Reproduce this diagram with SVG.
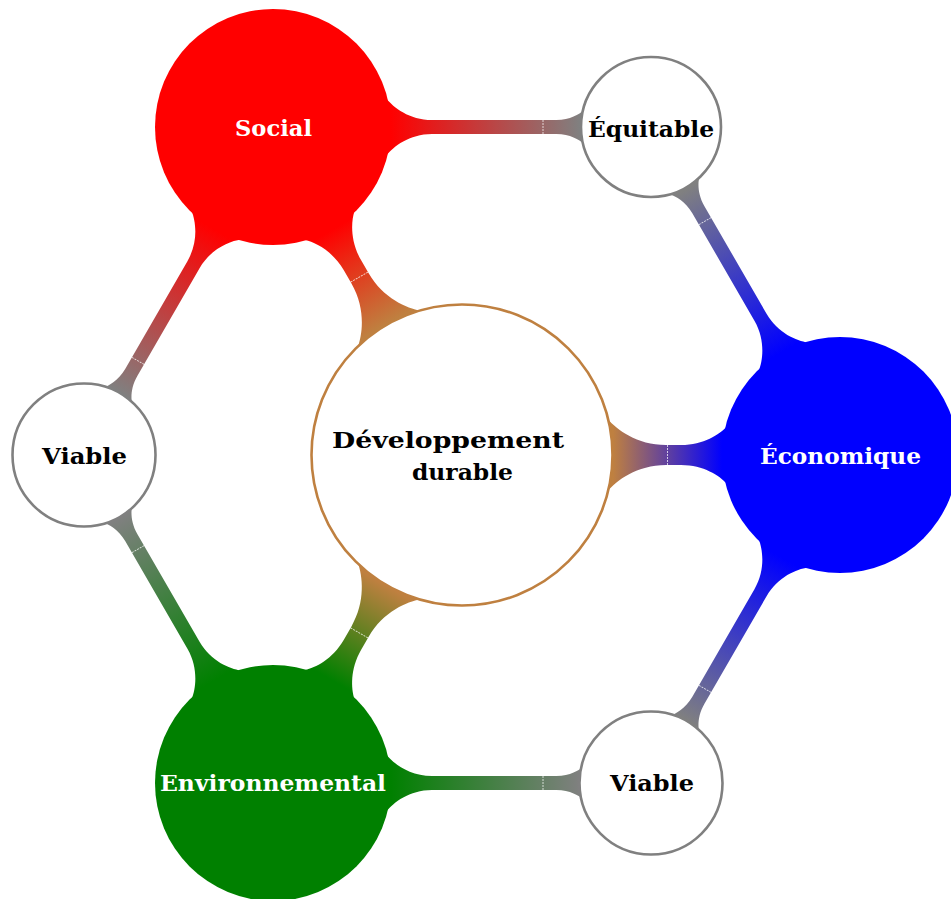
<svg xmlns="http://www.w3.org/2000/svg" width="951" height="899" viewBox="0 0 951 899">
<style>
.lbl{font-family:"DejaVu Serif","Liberation Serif",serif;font-weight:bold;font-size:23px;text-anchor:middle}
.dark{fill:#000}
.light{fill:#fff}
.small{fill:#fff;stroke:#808080;stroke-width:2.6}
.seam{stroke:#fff;stroke-width:0.9;stroke-opacity:0.8;stroke-dasharray:2 1}
</style>
<defs>
<linearGradient id="gBR" gradientUnits="userSpaceOnUse" x1="151" y1="0" x2="260" y2="0"><stop offset="0" stop-color="#bf8040"/><stop offset="1" stop-color="#ff0000"/></linearGradient>
<linearGradient id="gBB" gradientUnits="userSpaceOnUse" x1="151" y1="0" x2="260" y2="0"><stop offset="0" stop-color="#bf8040"/><stop offset="1" stop-color="#0000ff"/></linearGradient>
<linearGradient id="gBG" gradientUnits="userSpaceOnUse" x1="151" y1="0" x2="260" y2="0"><stop offset="0" stop-color="#bf8040"/><stop offset="1" stop-color="#008000"/></linearGradient>
<linearGradient id="gRY" gradientUnits="userSpaceOnUse" x1="118" y1="0" x2="307" y2="0"><stop offset="0" stop-color="#ff0000"/><stop offset="1" stop-color="#808080"/></linearGradient>
<linearGradient id="gUY" gradientUnits="userSpaceOnUse" x1="118" y1="0" x2="307" y2="0"><stop offset="0" stop-color="#0000ff"/><stop offset="1" stop-color="#808080"/></linearGradient>
<linearGradient id="gGY" gradientUnits="userSpaceOnUse" x1="118" y1="0" x2="307" y2="0"><stop offset="0" stop-color="#008000"/><stop offset="1" stop-color="#808080"/></linearGradient>
<path id="pC" d="M145.5,-36.3 C154.3,-25.8 174.8,-10 204,-10 L219,-10 C241.75,-10 257.7,-21 264.5,-28.3 L264.5,28.3 C257.7,21 241.75,10 219,10 L204,10 C174.8,10 154.3,25.8 145.5,36.3 Z"/>
<path id="pS" d="M113.5,-28.3 C120.3,-19.8 136.3,-7 159,-7 L283.5,-7 C297,-7 306.5,-12.9 310.6,-16.8 L310.6,16.8 C306.5,12.9 297,7 283.5,7 L159,7 C136.3,7 120.3,19.8 113.5,28.3 Z"/>
</defs>
<g id="connectors">
<g transform="translate(462,455) rotate(-120)"><use href="#pC" fill="url(#gBR)"/><line class="seam" x1="205.5" y1="-10" x2="205.5" y2="10"/></g>
<g transform="translate(462,455)"><use href="#pC" fill="url(#gBB)"/><line class="seam" x1="205.5" y1="-10" x2="205.5" y2="10"/></g>
<g transform="translate(462,455) rotate(120)"><use href="#pC" fill="url(#gBG)"/><line class="seam" x1="205.5" y1="-10" x2="205.5" y2="10"/></g>
<g transform="translate(273,127)"><use href="#pS" fill="url(#gRY)"/><line class="seam" x1="270" y1="-7" x2="270" y2="7"/></g>
<g transform="translate(840,455) rotate(-120)"><use href="#pS" fill="url(#gUY)"/><line class="seam" x1="270" y1="-7" x2="270" y2="7"/></g>
<g transform="translate(840,455) rotate(120)"><use href="#pS" fill="url(#gUY)"/><line class="seam" x1="270" y1="-7" x2="270" y2="7"/></g>
<g transform="translate(273,783)"><use href="#pS" fill="url(#gGY)"/><line class="seam" x1="270" y1="-7" x2="270" y2="7"/></g>
<g transform="translate(273,127) rotate(120)"><use href="#pS" fill="url(#gRY)"/><line class="seam" x1="270" y1="-7" x2="270" y2="7"/></g>
<g transform="translate(273,783) rotate(-120)"><use href="#pS" fill="url(#gGY)"/><line class="seam" x1="270" y1="-7" x2="270" y2="7"/></g>
</g>
<g id="center">
<circle cx="462" cy="455" r="150.5" fill="#fff" stroke="#bf8040" stroke-width="2.6"/>
<text class="lbl dark" x="448" y="448" textLength="232" lengthAdjust="spacingAndGlyphs" transform="translate(0,0)"><tspan x="448">Développement</tspan></text>
<text class="lbl dark" x="462.5" y="480" textLength="101" lengthAdjust="spacingAndGlyphs">durable</text>
</g>
<g id="social">
<circle cx="273" cy="127" r="118" fill="#ff0000"/>
<text class="lbl light" x="273.5" y="136" textLength="77" lengthAdjust="spacingAndGlyphs">Social</text>
</g>
<g id="economique">
<circle cx="840" cy="455" r="118" fill="#0000ff"/>
<text class="lbl light" x="840.5" y="464" textLength="161" lengthAdjust="spacingAndGlyphs">Économique</text>
</g>
<g id="environnemental">
<circle cx="273" cy="783" r="118" fill="#008000"/>
<text class="lbl light" x="273" y="791" textLength="226" lengthAdjust="spacingAndGlyphs">Environnemental</text>
</g>
<g id="equitable">
<circle class="small" cx="651" cy="127" r="70"/>
<text class="lbl dark" x="651" y="137" textLength="126" lengthAdjust="spacingAndGlyphs">Équitable</text>
</g>
<g id="viable-left">
<circle class="small" cx="84" cy="455" r="71.5"/>
<text class="lbl dark" x="84.5" y="464" textLength="85" lengthAdjust="spacingAndGlyphs">Viable</text>
</g>
<g id="viable-bottom">
<circle class="small" cx="651" cy="783" r="71.5"/>
<text class="lbl dark" x="652" y="791" textLength="84" lengthAdjust="spacingAndGlyphs">Viable</text>
</g>
</svg>
